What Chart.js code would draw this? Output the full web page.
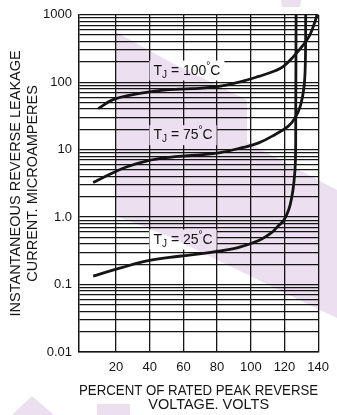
<!DOCTYPE html>
<html><head><meta charset="utf-8">
<script src="https://cdn.jsdelivr.net/npm/chart.js@4/dist/chart.umd.min.js"></script>
<style>html,body{margin:0;padding:0;background:#fff;overflow:hidden}#wrap{width:337px;height:415px}</style>
</head><body><div id="wrap"><canvas id="c" width="337" height="415"></canvas></div>
<script>
// ---- data ----
const xTickValues = [20, 40, 60, 80, 100, 120, 140];
const yTickValues = [0.01, 0.1, 1, 10, 100, 1000];
const yTickLabels = ['0.01', '0.1', '1.0', '10', '100', '1000'];

const t25X = [6.4, 22.2, 39.8, 57.5, 77.1, 92.9, 104.7, 112.5, 116.4, 119.4, 122.3, 124.3, 125.7, 126.5, 126.7, 126.9];
const t25Y = [0.133, 0.175, 0.228, 0.263, 0.302, 0.357, 0.449, 0.594, 0.747, 0.885, 1.24, 1.95, 3.44, 6.8, 40, 1000];

const t75X = [6.4, 16.3, 26.1, 37.9, 51.6, 65.4, 81.1, 94.8, 104.7, 114.5, 122.3, 126.3, 129.5, 131.6, 132.4, 132.6];
const t75Y = [3.25, 4.32, 5.54, 6.79, 7.7, 8.2, 9.0, 10.7, 12.6, 16.8, 22.3, 29.6, 45, 85, 200, 1000];

const t100X = [9.4, 18.2, 30, 41.8, 51.6, 65.4, 81.1, 94.8, 104.7, 114.5, 119.4, 125.3, 131.2, 135.1, 138.1, 139.3];
const t100Y = [40.6, 55.2, 65.5, 73.1, 77.5, 80.2, 86.7, 103, 122, 148, 172, 240, 357, 502, 789, 1000];

const curveTemps = ['100', '75', '25'];
const labelX = [42.2, 42.2, 42.2];
const labelY = [130, 14.3, 0.405];

const xTitle = ['PERCENT OF RATED PEAK REVERSE', '     VOLTAGE. VOLTS'];
const yTitle = ['INSTANTANEOUS REVERSE LEAKAGE', 'CURRENT. MICROAMPERES'];

// ---- helpers ----
const FONT = '"Liberation Sans", Arial, Helvetica, sans-serif';
const INK = '#151515';
const toPts = (xs, ys) => xs.map((x, i) => ({x: x, y: ys[i]}));

function allLogGridValues() {
  const out = [];
  for (let d = 0; d < yTickValues.length - 1; d++) {
    for (let m = 1; m <= 9; m++) out.push(parseFloat((m * yTickValues[d]).toPrecision(4)));
  }
  out.push(yTickValues[yTickValues.length - 1]);
  return out;
}

const labelPlugin = {
  id: 'tjLabels',
  beforeDatasetsDraw(chart) {
    const ctx = chart.ctx, xs = chart.scales.x, ys = chart.scales.y;
    const big = '14px ' + FONT, small = '10px ' + FONT;
    curveTemps.forEach((t, i) => {
      const px = xs.getPixelForValue(labelX[i]);
      const py = ys.getPixelForValue(labelY[i]);
      const parts = [['T', big, 0], ['J', small, 3], [' = ' + t, big, 0], ['\u00B0', small, -6], ['C', big, 0]];
      ctx.save();
      let w = 0;
      parts.forEach(p => { ctx.font = p[1]; w += ctx.measureText(p[0]).width; });
      ctx.fillStyle = '#ffffff';
      ctx.fillRect(px - 4, py - 14, w + 8, 20);
      ctx.fillStyle = INK;
      ctx.textBaseline = 'alphabetic';
      ctx.textAlign = 'left';
      let cx = px;
      parts.forEach(p => { ctx.font = p[1]; ctx.fillText(p[0], cx, py + p[2]); cx += ctx.measureText(p[0]).width; });
      ctx.restore();
    });
  }
};

// faint background watermark (decorative, pixel space)
const watermarkPlugin = {
  id: 'watermark',
  afterDraw(chart) {
    const ctx = chart.ctx;
    const shapes = [
      [[116, 32], [170, 62], [247, 100], [247, 142], [337, 190], [337, 318], [320, 310], [170, 237], [116, 216]],
      [[12, 415], [32, 396], [54, 415]],
      [[97, 404], [130, 404], [130, 415], [97, 415]],
      [[281, 0], [301, 0], [300, 7], [282, 7]]
    ];
    ctx.save();
    ctx.globalCompositeOperation = 'multiply';
    ctx.fillStyle = '#ecdff0';
    shapes.forEach(s => {
      ctx.beginPath();
      s.forEach((p, i) => i ? ctx.lineTo(p[0], p[1]) : ctx.moveTo(p[0], p[1]));
      ctx.closePath();
      ctx.fill();
    });
    ctx.restore();
  }
};

const lineStyle = {borderColor: INK, borderWidth: 2.8, pointRadius: 0, fill: false, tension: 0.4};

new Chart(document.getElementById('c'), {
  type: 'line',
  data: {
    datasets: [
      Object.assign({label: '100', data: toPts(t100X, t100Y)}, lineStyle),
      Object.assign({label: '75', data: toPts(t75X, t75Y)}, lineStyle),
      Object.assign({label: '25', data: toPts(t25X, t25Y)}, lineStyle)
    ]
  },
  options: {
    responsive: false,
    devicePixelRatio: 1,
    animation: false,
    layout: {padding: {top: 13, right: 17, left: 0, bottom: 0}},
    plugins: {legend: {display: false}, tooltip: {enabled: false}},
    scales: {
      x: {
        type: 'linear', min: -2, max: 140,
        afterBuildTicks: s => { s.ticks = xTickValues.map(v => ({value: v})); },
        afterFit: s => { s.height = 63; },
        ticks: {autoSkip: false, maxRotation: 0, padding: 8, color: INK, font: {family: FONT, size: 13},
                callback: v => String(v)},
        grid: {color: INK, lineWidth: 1.3, drawTicks: false},
        border: {display: true, color: INK, width: 1.5},
        title: {display: true, text: xTitle, color: INK, padding: {top: 0, bottom: 3},
                font: {family: FONT, size: 14.5, lineHeight: '14px'}}
      },
      y: {
        type: 'logarithmic', min: 0.01, max: 1000,
        afterBuildTicks: s => { s.ticks = allLogGridValues().map(v => ({value: v})); },
        afterFit: s => { s.width = 79; },
        ticks: {autoSkip: false, padding: 7, color: INK, font: {family: FONT, size: 13},
                callback: v => { const i = yTickValues.findIndex(t => Math.abs(t - v) / t < 1e-6); return i >= 0 ? yTickLabels[i] : ''; }},
        grid: {color: INK, lineWidth: 1.3, drawTicks: false},
        border: {display: true, color: INK, width: 1.5},
        title: {display: true, text: yTitle, color: INK, padding: {top: 7.5, bottom: 0},
                font: {family: FONT, size: 14.5, lineHeight: '17px'}}
      }
    }
  },
  plugins: [labelPlugin, watermarkPlugin]
});
</script>
</body></html>
